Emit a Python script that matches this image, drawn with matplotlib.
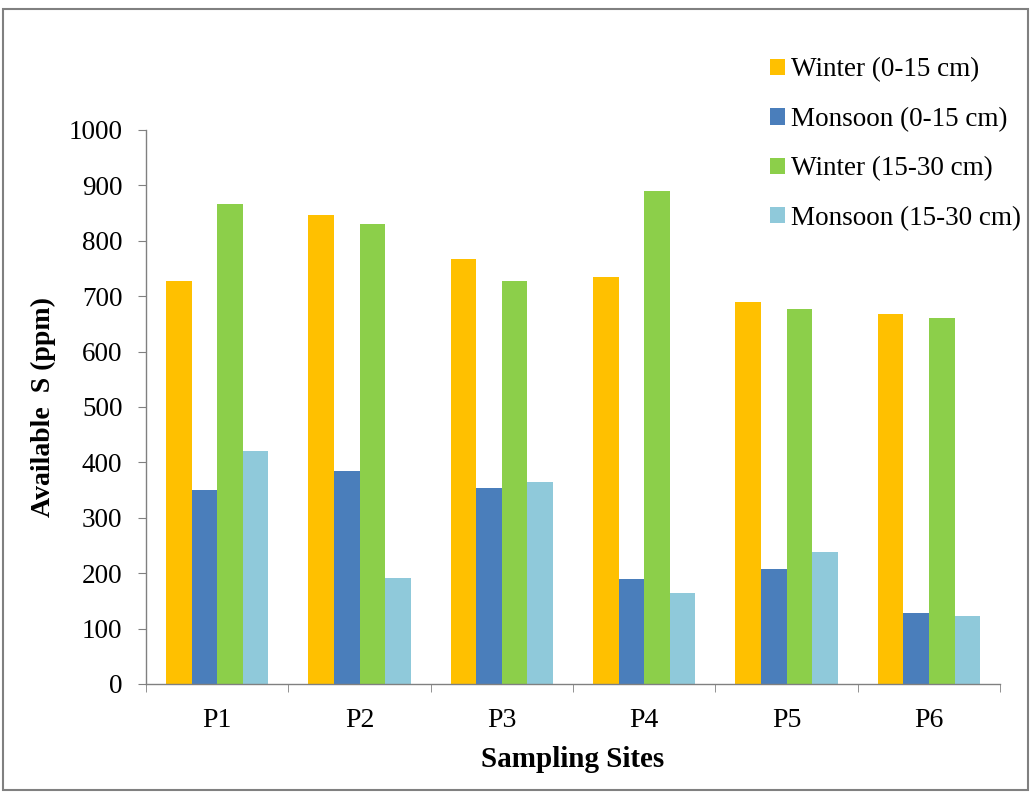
import numpy as np
import matplotlib
matplotlib.use("Agg")
import matplotlib.pyplot as plt
from matplotlib.patches import Rectangle

sites = ["P1", "P2", "P3", "P4", "P5", "P6"]
winter_0_15 = [727, 847, 767, 735, 690, 668]
monsoon_0_15 = [350, 385, 353, 189, 207, 129]
winter_15_30 = [866, 831, 727, 890, 676, 660]
monsoon_15_30 = [421, 191, 364, 164, 238, 123]

series_names = ["Winter (0-15 cm)", "Monsoon (0-15 cm)",
                "Winter (15-30 cm)", "Monsoon (15-30 cm)"]
series_colors = ["#FFC000", "#4A7EBB", "#8CCF4A", "#8FC9DA"]
y_ticks = [0, 100, 200, 300, 400, 500, 600, 700, 800, 900, 1000]

plt.rcParams["font.family"] = ["Liberation Serif", "DejaVu Serif"]

fig = plt.figure(figsize=(10.31, 7.92), dpi=100)
fig.patches.append(Rectangle((0.003, 0.003), 0.994, 0.986, transform=fig.transFigure,
                             fill=False, edgecolor="#808080", linewidth=1.5))

ax = fig.add_axes([0.1416, 0.1364, 0.8284, 0.6995])

x = np.arange(len(sites))
bar_w = 0.18
series = [winter_0_15, monsoon_0_15, winter_15_30, monsoon_15_30]
for i, (vals, name, col) in enumerate(zip(series, series_names, series_colors)):
    ax.bar(x + (i - 1.5) * bar_w, vals, width=bar_w, color=col, label=name,
           edgecolor="none", zorder=2)

ax.set_xlim(-0.5, len(sites) - 0.5)
ax.set_ylim(0, 1000)
ax.set_yticks(y_ticks)
ax.set_yticklabels([str(v) for v in y_ticks], fontsize=19.5)
ax.set_xticks(x)
ax.set_xticklabels(sites, fontsize=20)
ax.tick_params(axis="x", length=0, pad=17)
ax.set_xticks(np.arange(-0.5, len(sites)), minor=True)
ax.tick_params(axis="x", which="minor", length=6, color="#808080", direction="out")
ax.tick_params(axis="y", length=6, color="#808080", direction="out", pad=11)

for side in ("top", "right"):
    ax.spines[side].set_visible(False)
for side in ("left", "bottom"):
    ax.spines[side].set_color("#808080")
    ax.spines[side].set_linewidth(1.0)

ax.set_xlabel("Sampling Sites", fontsize=21, fontweight="bold", labelpad=10)
ax.set_ylabel("Available  S (ppm)", fontsize=20, fontweight="bold", labelpad=9)

fig.legend(loc="upper left", bbox_to_anchor=(0.736, 0.941), frameon=False,
           fontsize=19.5, handlelength=0.55, handleheight=0.55, handletextpad=0.22,
           labelspacing=0.9, borderaxespad=0)

fig.savefig("out.png", dpi=100, facecolor="white")
